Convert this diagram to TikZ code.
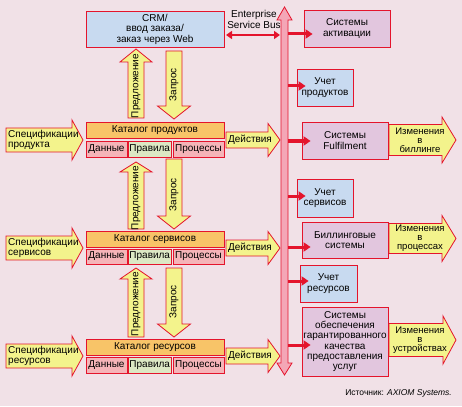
\documentclass[tikz,border=0pt]{standalone}
\usepackage{fontspec}
\setmainfont{Liberation Sans}
\usetikzlibrary{arrows.meta}
\definecolor{bg}{HTML}{F1E1E7}
\definecolor{redline}{HTML}{E4142C}
\definecolor{yel}{HTML}{F3F38C}
\definecolor{orng}{HTML}{F8C468}
\definecolor{pinksub}{HTML}{F5B4B8}
\definecolor{greensub}{HTML}{DCE8C4}
\definecolor{bluebox}{HTML}{C8DAF0}
\definecolor{purplebox}{HTML}{E2C6DE}
\definecolor{busfill}{HTML}{F4A6B6}
\tikzset{
  txt/.style={font=\fontsize{10}{10.5}\selectfont, inner sep=0pt, align=center},
  box/.style={txt, draw=redline, line width=0.8pt},
  bluebx/.style={box, fill=bluebox},
  purplebx/.style={box, fill=purplebox},
  cathead/.style={box, fill=orng, minimum width=138pt},
  subpink/.style={box, fill=pinksub},
  subgreen/.style={box, fill=greensub},
  fatarrow/.style={draw=redline, line width=0.8pt, fill=yel, line join=miter},
  busarr/.style={draw=redline, line width=3pt, -{Triangle[length=7pt,width=9pt]}, shorten >=-9pt},
  esbarr/.style={draw=redline, line width=2.5pt, {Triangle[length=6pt,width=8pt]}-{Triangle[length=6pt,width=8pt]}},
  chtxt/.style={txt, font=\fontsize{9.5}{9}\selectfont},
}
% horizontal fat arrow: x1, xbase, xtip, yc, shaft half, head half
\newcommand\harrow[6]{\draw[fatarrow] (#1,#4-#5) -- (#2,#4-#5) -- (#2,#4-#6) -- (#3,#4) -- (#2,#4+#6) -- (#2,#4+#5) -- (#1,#4+#5) -- cycle;}
% upward fat arrow: xc, ytip, ybase, ybottom, shaft half, head half
\newcommand\uparr[6]{\draw[fatarrow] (#1-#5,#4) -- (#1-#5,#3) -- (#1-#6,#3) -- (#1,#2) -- (#1+#6,#3) -- (#1+#5,#3) -- (#1+#5,#4) -- cycle;}
% downward fat arrow: xc, ytop, ybase, ytip, shaft half, head half
\newcommand\downarr[6]{\draw[fatarrow] (#1-#5,#2) -- (#1-#5,#3) -- (#1-#6,#3) -- (#1,#4) -- (#1+#6,#3) -- (#1+#5,#3) -- (#1+#5,#2) -- cycle;}
\begin{document}
\begin{tikzpicture}[x=1pt,y=-1pt]
\useasboundingbox (0,0) rectangle (462,406);
\fill[bg] (0,0) rectangle (462,406);

% bus
\draw[draw=redline, line width=0.8pt, fill=busfill] (281,20) -- (277,20) -- (284.5,7) -- (292,20) -- (288,20) -- (288,363) -- (292,363) -- (284.5,375) -- (277,363) -- (281,363) -- cycle;

% CRM
\node[bluebx, minimum width=138pt, minimum height=36pt] (crm) at (155,29) {CRM/\\ввод заказа/\\заказ через Web};

% ESB
\node[txt, font=\fontsize{10}{11}\selectfont] (esb) at (254,19) {Enterprise\\Service Bus};
\coordinate (esbL) at (226,35);
\coordinate (esbR) at (280,35);
\draw[esbarr] (esbL) -- (esbR);

% vertical arrows level 0-1
\uparr{136}{49}{62}{118}{8}{16}
\downarr{174}{51}{106}{119}{8}{16.5}
\node[txt, rotate=90] (pr1) at (136,86) {Предложение};
\node[txt, rotate=90] (zp1) at (174,85) {Запрос};

% vertical arrows level 1-2
\uparr{136}{162}{172}{229}{8}{16}
\downarr{174}{159}{216}{229}{8}{16.5}
\node[txt, rotate=90] (pr2) at (136,198) {Предложение};
\node[txt, rotate=90] (zp2) at (174,195) {Запрос};

% vertical arrows level 2-3
\uparr{136}{268}{279}{337}{8}{16}
\downarr{174}{268}{324}{337}{8}{16.5}
\node[txt, rotate=90] (pr3) at (136,304) {Предложение};
\node[txt, rotate=90] (zp3) at (174,302) {Запрос};

% catalogs
\node[cathead, minimum height=16pt] (cat1) at (155,130) {Каталог продуктов};
\node[subpink, minimum width=41pt, minimum height=16pt] (d1) at (106.5,149) {Данные};
\node[subgreen, minimum width=42.5pt, minimum height=16pt] (r1) at (149.75,149) {Правила};
\node[subpink, minimum width=51pt, minimum height=16pt] (p1) at (198.5,149) {Процессы};

\node[cathead, minimum height=16pt] (cat2) at (155,239) {Каталог сервисов};
\node[subpink, minimum width=41pt, minimum height=15pt] (d2) at (106.5,256.5) {Данные};
\node[subgreen, minimum width=42.5pt, minimum height=15pt] (r2) at (149.75,256.5) {Правила};
\node[subpink, minimum width=51pt, minimum height=15pt] (p2) at (198.5,256.5) {Процессы};

\node[cathead, minimum height=16pt] (cat3) at (155,347) {Каталог ресурсов};
\node[subpink, minimum width=41pt, minimum height=16pt] (d3) at (106.5,365) {Данные};
\node[subgreen, minimum width=42.5pt, minimum height=16pt] (r3) at (149.75,365) {Правила};
\node[subpink, minimum width=51pt, minimum height=16pt] (p3) at (198.5,365) {Процессы};

% specification arrows
\harrow{6}{72}{83}{140}{12}{20}
\node[txt, anchor=west, align=left] (sp1) at (8,140) {Спецификации\\продукта};
\harrow{6}{72}{83}{248}{12}{20}
\node[txt, anchor=west, align=left] (sp2) at (8,248) {Спецификации\\сервисов};
\harrow{6}{72}{83}{356}{12}{20}
\node[txt, anchor=west, align=left] (sp3) at (8,356) {Спецификации\\ресурсов};

% action arrows
\harrow{226}{268}{280}{140}{8}{16.5}
\node[txt] (a1) at (250,140) {Действия};
\harrow{226}{268}{280}{248}{8}{16.5}
\node[txt] (a2) at (250,248) {Действия};
\harrow{226}{268}{280}{356}{8}{16.5}
\node[txt] (a3) at (250,356) {Действия};

% right boxes
\node[purplebx, minimum width=86pt, minimum height=37pt] (act) at (347,28.5) {Системы\\активации};
\node[bluebx, minimum width=56pt, minimum height=37pt] (up) at (325,87.5) {Учет\\продуктов};
\node[purplebx, minimum width=86pt, minimum height=37pt] (ful) at (345,140.5) {Системы\\Fulfilment};
\node[bluebx, minimum width=56pt, minimum height=38pt] (us) at (325,198) {Учет\\сервисов};
\node[purplebx, minimum width=86pt, minimum height=36pt] (bil) at (345,240) {Биллинговые\\системы};
\node[bluebx, minimum width=57pt, minimum height=37pt] (ur) at (328.5,283.5) {Учет\\ресурсов};
\node[purplebx, minimum width=86pt, minimum height=69pt, font=\fontsize{10}{10.2}\selectfont] (qos) at (345,341.5) {Системы\\обеспечения\\гарантированного\\качества\\предоставления\\услуг};

% bus arrows
\coordinate (b1) at (288,34);
\coordinate (b2) at (288,86);
\coordinate (b3) at (288,141);
\coordinate (b4) at (288,196);
\coordinate (b5) at (288,247);
\coordinate (b6) at (288,281);
\coordinate (b7) at (288,345);
\draw[busarr] (b1) -- (b1 -| act.west);
\draw[busarr] (b2) -- (b2 -| up.west);
\draw[busarr] (b3) -- (b3 -| ful.west);
\draw[busarr] (b4) -- (b4 -| us.west);
\draw[busarr] (b5) -- (b5 -| bil.west);
\draw[busarr] (b6) -- (b6 -| ur.west);
\draw[busarr] (b7) -- (b7 -| qos.west);

% change arrows
\harrow{389}{442}{456}{140}{15.5}{23}
\node[chtxt] (ch1) at (420,140) {Изменения\\в\\биллинге};
\harrow{389}{442}{456}{238.5}{15}{23}
\node[chtxt] (ch2) at (420,238.5) {Изменения\\в\\процессах};
\harrow{389}{443}{456}{340}{16.5}{24}
\node[chtxt] (ch3) at (420,340) {Изменения\\в\\устройствах};

% source
\node[txt, anchor=east, font=\fontsize{8.5}{10}\selectfont] (src) at (452,393) {Источник: \textit{AXIOM Systems.}};
\end{tikzpicture}
\end{document}
